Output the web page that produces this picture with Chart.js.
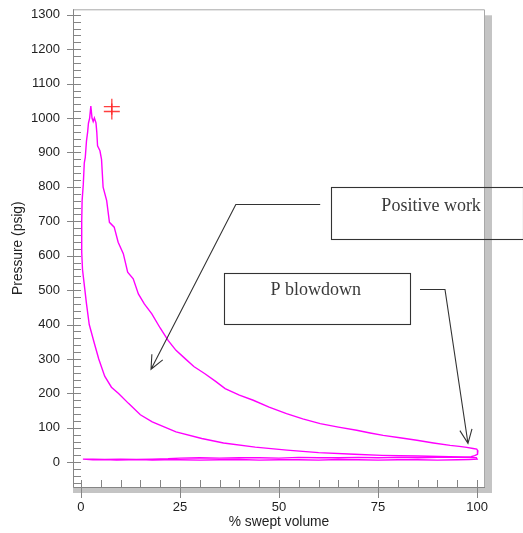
<!DOCTYPE html>
<html><head><meta charset="utf-8">
<script src="https://cdn.jsdelivr.net/npm/chart.js@4"></script>
<style>html,body{margin:0;padding:0;background:#fff;}canvas{display:block;}</style>
</head><body>
<canvas id="c" width="523" height="533" style="width:523px;height:533px"></canvas>
<script>
// ---- data ----
const intakeVol = [0.5, 3, 6, 9, 12, 15, 18, 21, 25, 30, 35, 40, 45, 50, 55, 60, 65, 70, 75, 80, 85, 90, 95, 98, 100];
const intakeP   = [9, 7, 8, 6, 7, 8, 6, 7, 7, 6, 7, 8, 6, 7, 7, 6, 8, 7, 6, 7, 7, 6, 7, 8, 9];

const compVol = [99.8, 97, 93, 85, 76, 69, 60, 52, 44, 36, 30.5, 24, 18, 15, 12, 9.5, 7.7, 6, 4.5, 3.4, 2.1, 1.4, 0.9, 0.6, 0.4, 0.2, 0.2, 0.3, 0.6, 0.85, 1.1, 1.4, 1.7, 1.9, 2.2];
const compP   = [13, 15, 16, 18, 20, 23, 28, 35, 44, 56, 69, 88, 117, 138, 171, 200, 218, 250, 300, 345, 400, 461, 510, 540, 560, 610, 700, 760, 808, 870, 886, 933, 960, 985, 1000];

const expVol = [2.5, 2.8, 3.1, 3.4, 3.8, 4.0, 4.2, 4.8, 5.2, 5.6, 6.5, 7.2, 8.4, 9.4, 10.7, 11.8, 13.2, 14.5, 16, 17.9, 20, 22, 24, 26.3, 28.5, 31.3, 34, 36.4, 40, 43.5, 47.5, 51.9, 56, 60.4, 65, 69.6, 73, 76.3, 80.5, 84.8, 89, 93.2, 95.5, 97.4, 99, 99.9, 100.2];
const expP   = [1035, 1000, 990, 1000, 986, 960, 919, 905, 880, 799, 760, 697, 683, 639, 606, 552, 533, 489, 460, 431, 390, 354, 325, 301, 278, 257, 235, 214, 195, 180, 160, 141, 126, 112, 102, 93, 85, 78, 71, 64, 56, 49, 46, 43, 40, 38, 33];

const exhVol = [100.2, 100, 99.4, 98.5, 97, 94, 90, 85, 80, 75, 70, 65, 60, 55, 50, 45, 40, 35, 30, 25, 22, 18, 14, 10, 6, 3, 0.5];
const exhP   = [28, 23, 19, 16, 15, 14, 14, 13, 14, 13, 14, 13, 13, 14, 12, 13, 13, 12, 13, 12, 10, 9, 8, 9, 8, 9, 9];

const markerVol = [7.8, 7.8];
const markerP   = [1033, 1019];

const xTickLabels = [0, 25, 50, 75, 100];
const yTickLabels = [0, 100, 200, 300, 400, 500, 600, 700, 800, 900, 1000, 1100, 1200, 1300];

// ---- annotations (in data units) ----
const notes = [
  { text: 'Positive work', box: [63.1, 801, 111.6, 650], textAt: [88.4, 729],
    arrow: [[60.4, 749], [39.1, 749], [17.7, 270]] },
  { text: 'P blowdown', box: [36.1, 551, 83.1, 403], textAt: [59.3, 485],
    arrow: [[85.6, 502], [91.9, 502], [97.7, 55]] }
];

function pts(xs, ys) { return xs.map((v, i) => ({ x: v, y: ys[i] })); }
const loop = [].concat(pts(intakeVol, intakeP), pts(compVol, compP), pts(expVol, expP), pts(exhVol, exhP));

const framePlugin = {
  id: 'frame',
  beforeDatasetsDraw(chart) {
    const { ctx, chartArea: a, scales: { x, y } } = chart;
    ctx.save();
    ctx.fillStyle = '#c4c4c4';
    ctx.fillRect(a.right, a.top + 6, 7, a.bottom - a.top);
    ctx.fillRect(a.left, a.bottom, a.right - a.left + 7, 6);
    ctx.lineWidth = 1;
    ctx.strokeStyle = '#a8a8a8';
    ctx.beginPath();
    ctx.moveTo(a.left, a.top + 0.5);
    ctx.lineTo(a.right - 0.5, a.top + 0.5);
    ctx.lineTo(a.right - 0.5, a.bottom);
    ctx.stroke();
    ctx.strokeStyle = '#858585';
    ctx.beginPath();
    ctx.moveTo(a.left + 0.5, a.top);
    ctx.lineTo(a.left + 0.5, a.bottom + 0.5);
    ctx.lineTo(a.right, a.bottom + 0.5);
    ctx.stroke();
    ctx.beginPath();
    for (let v = -60; v <= 1300; v += 20) {
      const py = Math.round(y.getPixelForValue(v)) + 0.5;
      const major = v % 100 === 0;
      ctx.moveTo(a.left + (major ? -6 : 0), py);
      ctx.lineTo(a.left + 8, py);
    }
    for (let v = 0; v <= 100; v += 5) {
      const px = Math.round(x.getPixelForValue(v)) + 0.5;
      const major = v % 25 === 0;
      ctx.moveTo(px, a.bottom - 7);
      ctx.lineTo(px, a.bottom + (major ? 11 : 0));
    }
    ctx.stroke();
    ctx.restore();
  },
  afterDraw(chart) {
    const { ctx, scales: { x, y } } = chart;
    ctx.save();
    ctx.strokeStyle = '#333';
    ctx.lineWidth = 1.1;
    ctx.font = '18px "Liberation Serif", "Times New Roman", serif';
    ctx.fillStyle = '#3a3a3a';
    ctx.textAlign = 'center';
    ctx.textBaseline = 'alphabetic';
    for (const n of notes) {
      const x0 = x.getPixelForValue(n.box[0]), y0 = y.getPixelForValue(n.box[1]);
      const x1 = x.getPixelForValue(n.box[2]), y1 = y.getPixelForValue(n.box[3]);
      ctx.strokeRect(Math.round(x0) + 0.5, Math.round(y0) + 0.5, Math.round(x1 - x0), Math.round(y1 - y0));
      ctx.fillText(n.text, x.getPixelForValue(n.textAt[0]), y.getPixelForValue(n.textAt[1]));
      const p = n.arrow.map(q => [x.getPixelForValue(q[0]), y.getPixelForValue(q[1])]);
      ctx.beginPath();
      ctx.moveTo(p[0][0], p[0][1]);
      for (let i = 1; i < p.length; i++) ctx.lineTo(p[i][0], p[i][1]);
      const tip = p[p.length - 1], prev = p[p.length - 2];
      const ang = Math.atan2(tip[1] - prev[1], tip[0] - prev[0]);
      const L = 15, h = 0.42;
      ctx.moveTo(tip[0] - L * Math.cos(ang - h), tip[1] - L * Math.sin(ang - h));
      ctx.lineTo(tip[0], tip[1]);
      ctx.lineTo(tip[0] - L * Math.cos(ang + h), tip[1] - L * Math.sin(ang + h));
      ctx.stroke();
    }
    ctx.restore();
  }
};

const font = { family: '"Liberation Sans", Arial, Helvetica, sans-serif', size: 13 };
const titleFont = { family: '"Liberation Sans", Arial, Helvetica, sans-serif', size: 13.8 };
const plain = v => String(v);

new Chart(document.getElementById('c'), {
  type: 'scatter',
  data: {
    datasets: [
      { data: loop, showLine: true, borderColor: '#ff00ff', borderWidth: 1.4, pointRadius: 0, tension: 0, fill: false },
      { data: pts(markerVol, markerP), pointStyle: 'cross', pointRadius: 8, borderColor: 'rgba(255,30,30,0.85)', borderWidth: 1.3, backgroundColor: 'transparent', showLine: false }
    ]
  },
  options: {
    responsive: false,
    animation: false,
    events: [],
    layout: { padding: { left: 0, top: 8, right: 38, bottom: 0 } },
    plugins: { legend: { display: false }, tooltip: { enabled: false } },
    scales: {
      x: {
        type: 'linear', min: -2, max: 102,
        grid: { display: false, drawTicks: false },
        border: { display: false },
        afterBuildTicks: s => { s.ticks = xTickLabels.map(v => ({ value: v })); },
        afterFit: s => { s.height = 46; s.paddingLeft = 0; s.paddingRight = 0; },
        ticks: { padding: 13, color: '#222', font, maxRotation: 0, callback: plain },
        title: { display: true, text: '% swept volume', color: '#222', font: titleFont, padding: { top: 0, bottom: 3 } }
      },
      y: {
        type: 'linear', min: -72, max: 1316,
        grid: { display: false, drawTicks: false },
        border: { display: false },
        afterBuildTicks: s => { s.ticks = yTickLabels.map(v => ({ value: v })); },
        afterFit: s => { s.width = 73; s.paddingTop = 0; s.paddingBottom = 0; },
        ticks: { padding: 13, color: '#222', font, callback: plain },
        title: { display: true, text: 'Pressure (psig)', color: '#222', font: titleFont, padding: { top: 10, bottom: 0 } }
      }
    }
  },
  plugins: [framePlugin]
});
</script>
</body></html>
